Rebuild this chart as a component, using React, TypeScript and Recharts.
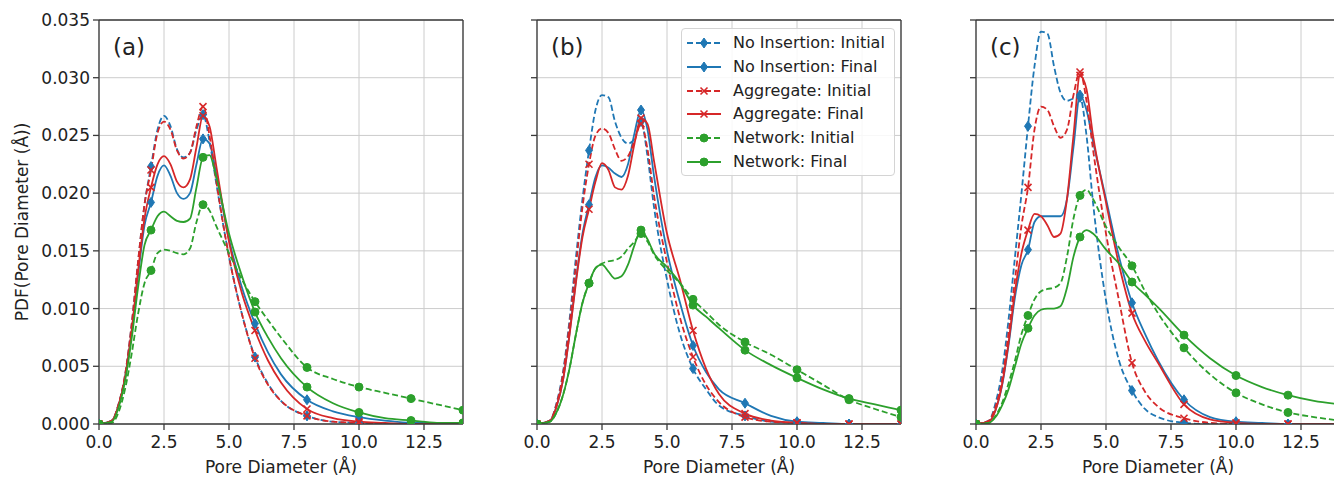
import React from "react";
import { LineChart, Line, XAxis, YAxis, CartesianGrid, Legend, ReferenceLine } from "recharts";

// pore diameter (Å) sample points
const poreDiameter = [0, 0.5, 0.75, 1, 1.25, 1.5, 1.75, 2, 2.25, 2.5, 2.75, 3, 3.25, 3.5, 3.75, 4, 4.25, 4.5, 5, 5.5, 6, 6.5, 7, 8, 9, 10, 11, 12, 13, 14];

const xTicks = [0, 2.5, 5, 7.5, 10, 12.5];
const yTicks = [0, 0.005, 0.01, 0.015, 0.02, 0.025, 0.03, 0.035];

// (a)
const aNiInit = [0, 0.0003, 0.0017, 0.0042, 0.0085, 0.014, 0.019, 0.0223, 0.0255, 0.0267, 0.0258, 0.0238, 0.0231, 0.0235, 0.0255, 0.0268, 0.0245, 0.021, 0.0145, 0.0095, 0.0058, 0.0035, 0.002, 0.0007, 0.0002, 0.0001, 0, 0, 0, 0];
const aNiFinal = [0, 0.0003, 0.0016, 0.004, 0.0078, 0.0128, 0.0172, 0.0192, 0.0215, 0.0224, 0.0215, 0.02, 0.0195, 0.02, 0.0225, 0.0247, 0.0243, 0.0218, 0.016, 0.0118, 0.0087, 0.0062, 0.0043, 0.0021, 0.0011, 0.0006, 0.0003, 0.0001, 0.0001, 0];
const aAgInit = [0, 0.0003, 0.0017, 0.0042, 0.0085, 0.014, 0.019, 0.022, 0.0252, 0.0262, 0.0255, 0.0237, 0.023, 0.0235, 0.0258, 0.0275, 0.025, 0.0212, 0.0145, 0.0095, 0.0057, 0.0034, 0.002, 0.0007, 0.0002, 0.0001, 0, 0, 0, 0];
const aAgFinal = [0, 0.0003, 0.0016, 0.004, 0.008, 0.0132, 0.0178, 0.0205, 0.0225, 0.0232, 0.0225, 0.021, 0.0205, 0.0212, 0.024, 0.0267, 0.0258, 0.0225, 0.0158, 0.0113, 0.0081, 0.0055, 0.0036, 0.0013, 0.0005, 0.0002, 0.0001, 0, 0, 0];
const aNwInit = [0, 0.0001, 0.001, 0.003, 0.006, 0.0095, 0.0122, 0.0133, 0.0148, 0.0151, 0.015, 0.0148, 0.0147, 0.0152, 0.0175, 0.019, 0.0185, 0.0172, 0.0148, 0.0125, 0.0106, 0.009, 0.0075, 0.0049, 0.0039, 0.0032, 0.0027, 0.0022, 0.0017, 0.0012];
const aNwFinal = [0, 0.0002, 0.0014, 0.0037, 0.0073, 0.0118, 0.0155, 0.0168, 0.018, 0.0184, 0.018, 0.0176, 0.0175, 0.0178, 0.0205, 0.0231, 0.0233, 0.0215, 0.0165, 0.0128, 0.0097, 0.0075, 0.0057, 0.0032, 0.0018, 0.001, 0.0005, 0.0003, 0.0001, 0.0001];

// (b)
const bNiInit = [0, 0.0003, 0.0018, 0.0045, 0.009, 0.0145, 0.0195, 0.0237, 0.0272, 0.0285, 0.0283, 0.0262, 0.0248, 0.0243, 0.0247, 0.0262, 0.0232, 0.0188, 0.0125, 0.0078, 0.0048, 0.003, 0.0016, 0.0007, 0.0002, 0.0001, 0, 0, 0, 0];
const bNiFinal = [0, 0.0003, 0.0015, 0.0038, 0.0078, 0.0125, 0.0165, 0.019, 0.0214, 0.0224, 0.0222, 0.0217, 0.0214, 0.0225, 0.0252, 0.0272, 0.0255, 0.0215, 0.015, 0.0105, 0.0068, 0.0045, 0.003, 0.0018, 0.0007, 0.0002, 0.0001, 0, 0, 0];
const bAgInit = [0, 0.0003, 0.0017, 0.0043, 0.0086, 0.0138, 0.0188, 0.0225, 0.025, 0.0256, 0.0252, 0.0238, 0.0228, 0.0232, 0.0245, 0.026, 0.0238, 0.0198, 0.014, 0.0092, 0.0058, 0.0034, 0.0019, 0.0006, 0.0002, 0.0001, 0, 0, 0, 0];
const bAgFinal = [0, 0.0003, 0.0015, 0.0038, 0.0077, 0.0123, 0.0162, 0.0186, 0.021, 0.0226, 0.022, 0.0205, 0.0203, 0.0215, 0.0243, 0.0265, 0.026, 0.0228, 0.0165, 0.0125, 0.0081, 0.0048, 0.0026, 0.0009, 0.0003, 0.0001, 0, 0, 0, 0];
const bNwInit = [0, 0.0002, 0.001, 0.0025, 0.0048, 0.0078, 0.0105, 0.0122, 0.0135, 0.0139, 0.0141, 0.0142, 0.0145, 0.0152, 0.0158, 0.0165, 0.0158, 0.0147, 0.0133, 0.0122, 0.0108, 0.0097, 0.0086, 0.0071, 0.006, 0.0047, 0.0034, 0.0021, 0.0013, 0.0006];
const bNwFinal = [0, 0.0002, 0.001, 0.0025, 0.0048, 0.0078, 0.0105, 0.0122, 0.0135, 0.0138, 0.0132, 0.0126, 0.0128, 0.0138, 0.0155, 0.0168, 0.016, 0.0148, 0.0136, 0.0122, 0.0103, 0.0093, 0.0083, 0.0064, 0.0051, 0.004, 0.003, 0.0022, 0.0017, 0.0012];

// (c)
const cNiInit = [0, 0.0003, 0.0018, 0.0045, 0.009, 0.0145, 0.02, 0.0258, 0.031, 0.034, 0.0338, 0.031, 0.0287, 0.028, 0.0282, 0.0283, 0.025, 0.0192, 0.0107, 0.0055, 0.0029, 0.0013, 0.0006, 0.0001, 0, 0, 0, 0, 0, 0];
const cNiFinal = [0, 0.0002, 0.0012, 0.0033, 0.0068, 0.011, 0.0138, 0.0151, 0.0175, 0.018, 0.018, 0.018, 0.018, 0.0195, 0.024, 0.0285, 0.0272, 0.0245, 0.0195, 0.0145, 0.0105, 0.0078, 0.0055, 0.0021, 0.0006, 0.0002, 0.0001, 0, 0, 0];
const cAgInit = [0, 0.0003, 0.0015, 0.0038, 0.0078, 0.0125, 0.0172, 0.0205, 0.0255, 0.0275, 0.0272, 0.0258, 0.0248, 0.0255, 0.0285, 0.0305, 0.028, 0.0238, 0.0165, 0.0107, 0.0053, 0.0028, 0.0015, 0.0005, 0.0001, 0, 0, 0, 0, 0];
const cAgFinal = [0, 0.0002, 0.0012, 0.0034, 0.007, 0.0115, 0.0148, 0.0168, 0.0182, 0.018, 0.0172, 0.0162, 0.0165, 0.0195, 0.025, 0.0302, 0.029, 0.025, 0.0192, 0.0138, 0.0096, 0.0072, 0.0053, 0.0017, 0.0004, 0.0001, 0, 0, 0, 0];
const cNwInit = [0, 0.0001, 0.0007, 0.0018, 0.0035, 0.0055, 0.0078, 0.0094, 0.0108, 0.0115, 0.0117, 0.0118, 0.0122, 0.0145, 0.0178, 0.0198, 0.0203, 0.0195, 0.0171, 0.0153, 0.0137, 0.0115, 0.0096, 0.0066, 0.0043, 0.0027, 0.0017, 0.001, 0.0006, 0.0003];
const cNwFinal = [0, 0.0001, 0.0006, 0.0016, 0.003, 0.005, 0.007, 0.0083, 0.0094, 0.0099, 0.01, 0.01, 0.0102, 0.0118, 0.0145, 0.0162, 0.0168, 0.0165, 0.0151, 0.0139, 0.0123, 0.0112, 0.0101, 0.0077, 0.0057, 0.0042, 0.0032, 0.0025, 0.002, 0.0017];

const BLUE = "#1f77b4";
const RED = "#d62728";
const GREEN = "#2ca02c";
const FONT = "'DejaVu Sans', sans-serif";
const TEXT = "#222";
const SPINE = "#3a3a3a";

const series = [
  { key: "niInit", name: "No Insertion: Initial", color: BLUE, dashed: true, marker: "diamond" },
  { key: "niFinal", name: "No Insertion: Final", color: BLUE, dashed: false, marker: "diamond" },
  { key: "agInit", name: "Aggregate: Initial", color: RED, dashed: true, marker: "x" },
  { key: "agFinal", name: "Aggregate: Final", color: RED, dashed: false, marker: "x" },
  { key: "nwInit", name: "Network: Initial", color: GREEN, dashed: true, marker: "circle" },
  { key: "nwFinal", name: "Network: Final", color: GREEN, dashed: false, marker: "circle" },
];

function buildRows(cols: number[][]) {
  return poreDiameter.map((x, i) => ({
    x,
    niInit: cols[0][i],
    niFinal: cols[1][i],
    agInit: cols[2][i],
    agFinal: cols[3][i],
    nwInit: cols[4][i],
    nwFinal: cols[5][i],
  }));
}

const panelA = buildRows([aNiInit, aNiFinal, aAgInit, aAgFinal, aNwInit, aNwFinal]);
const panelB = buildRows([bNiInit, bNiFinal, bAgInit, bAgFinal, bNwInit, bNwFinal]);
const panelC = buildRows([cNiInit, cNiFinal, cAgInit, cAgFinal, cNwInit, cNwFinal]);

function MarkerShape({ shape, cx, cy, color }: { shape: string; cx: number; cy: number; color: string }) {
  if (shape === "diamond") {
    return <path d={`M${cx},${cy - 5} L${cx + 3.5},${cy} L${cx},${cy + 5} L${cx - 3.5},${cy} Z`} fill={color} stroke={color} strokeWidth={1} />;
  }
  if (shape === "x") {
    return (
      <g stroke={color} strokeWidth={1.6}>
        <line x1={cx - 3.5} y1={cy - 3.5} x2={cx + 3.5} y2={cy + 3.5} />
        <line x1={cx - 3.5} y1={cy + 3.5} x2={cx + 3.5} y2={cy - 3.5} />
      </g>
    );
  }
  return <circle cx={cx} cy={cy} r={4} fill={color} stroke={color} />;
}

function makeDot(shape: string, color: string) {
  return (props: any) => {
    const { cx, cy, payload, index } = props;
    if (cx == null || cy == null || payload.x % 2 !== 0) return <g key={`m-${index}`} />;
    return (
      <g key={`m-${index}`}>
        <MarkerShape shape={shape} cx={cx} cy={cy} color={color} />
      </g>
    );
  };
}

function LegendBox() {
  return (
    <div
      style={{
        position: "relative",
        width: 212,
        height: 146,
        border: "1px solid #d4d4d4",
        borderRadius: 4,
        background: "rgba(255,255,255,0.85)",
        fontFamily: FONT,
        fontSize: 16,
        color: TEXT,
      }}
    >
      {series.map((s, i) => (
        <div key={s.key} style={{ position: "absolute", left: 5, top: 3 + i * 23.8, height: 22, display: "flex", alignItems: "center" }}>
          <svg width={34} height={22} style={{ display: "block" }}>
            <line x1={0} y1={11} x2={34} y2={11} stroke={s.color} strokeWidth={1.8} strokeDasharray={s.dashed ? "6 3" : undefined} />
            <MarkerShape shape={s.marker} cx={17} cy={11} color={s.color} />
          </svg>
          <span style={{ marginLeft: 12, whiteSpace: "nowrap", lineHeight: "22px" }}>{s.name}</span>
        </div>
      ))}
    </div>
  );
}

function Panel({ data, letter, left, first, legend }: { data: any[]; letter: string; left: number; first: boolean; legend: boolean }) {
  return (
    <div style={{ position: "absolute", left, top: 0 }}>
      <LineChart width={470} height={479} data={data} margin={{ top: 20, right: 7, bottom: 0, left: 0 }}>
        <CartesianGrid stroke="#cccccc" strokeWidth={1} />
        <XAxis
          dataKey="x"
          type="number"
          domain={[0, 14]}
          ticks={xTicks}
          allowDataOverflow
          tickFormatter={(v: number) => v.toFixed(1)}
          height={55}
          tickSize={6}
          tickMargin={6}
          stroke={SPINE}
          strokeWidth={1.3}
          tick={{ fill: TEXT, fontSize: 17 }}
          label={(p: any) => (
            <text x={p.viewBox.x + p.viewBox.width / 2} y={p.viewBox.y + 49} textAnchor="middle" fill={TEXT} fontSize={17}>
              Pore Diameter (Å)
            </text>
          )}
        />
        <YAxis
          type="number"
          domain={[0, 0.035]}
          ticks={yTicks}
          allowDataOverflow
          width={99}
          tickSize={6}
          tickMargin={3}
          stroke={SPINE}
          strokeWidth={1.3}
          tick={{ fill: TEXT, fontSize: 17 }}
          tickFormatter={(v: number) => (first ? v.toFixed(3) : "")}
          label={
            first
              ? () => (
                  <text x={22} y={222} transform="rotate(-90 22 222)" textAnchor="middle" dominantBaseline="central" fill={TEXT} fontSize={17}>
                    PDF(Pore Diameter (Å))
                  </text>
                )
              : undefined
          }
        />
        {series.map((s) => (
          <Line
            key={s.key}
            dataKey={s.key}
            name={s.name}
            type="monotone"
            stroke={s.color}
            strokeWidth={1.8}
            strokeDasharray={s.dashed ? "6 3" : undefined}
            dot={makeDot(s.marker, s.color)}
            activeDot={false}
            isAnimationActive={false}
          />
        ))}
        {/* top and right frame lines, plus the panel letter */}
        <ReferenceLine
          y={0.035}
          stroke={SPINE}
          strokeWidth={1.3}
          label={(p: any) => (
            <text x={p.viewBox.x + 14} y={p.viewBox.y + 35} fill={TEXT} fontSize={23}>
              {letter}
            </text>
          )}
        />
        <ReferenceLine x={14} stroke={SPINE} strokeWidth={1.3} />
        {legend && (
          <Legend
            layout="vertical"
            verticalAlign="middle"
            align="center"
            content={() => <LegendBox />}
            wrapperStyle={{ left: 243, top: 28, width: 214, height: 148 }}
          />
        )}
      </LineChart>
    </div>
  );
}

export default function App() {
  return (
    <div
      style={{
        position: "absolute",
        left: 0,
        top: 0,
        width: 1334,
        height: 479,
        overflow: "hidden",
        background: "#fff",
        fontFamily: FONT,
      }}
    >
      <Panel data={panelA} letter="(a)" left={0} first legend={false} />
      <Panel data={panelB} letter="(b)" left={438} first={false} legend />
      <Panel data={panelC} letter="(c)" left={877} first={false} legend={false} />
    </div>
  );
}
